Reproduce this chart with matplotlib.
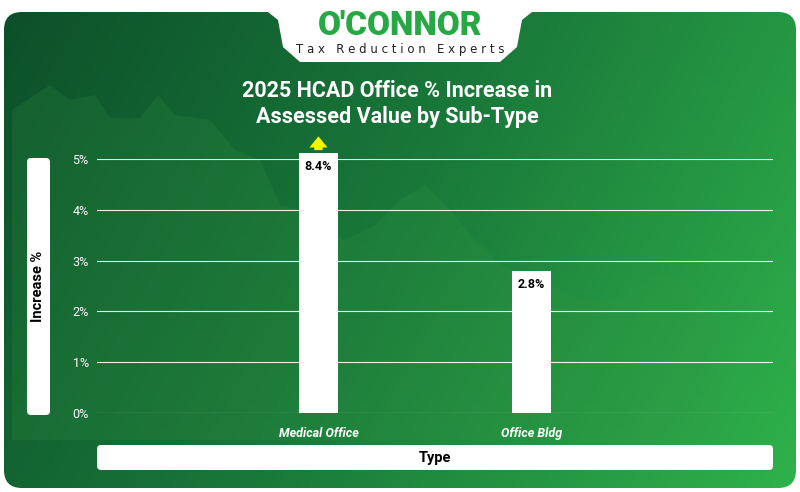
import numpy as np
import matplotlib.pyplot as plt
from matplotlib.patches import FancyBboxPatch, Polygon
from matplotlib.colors import LinearSegmentedColormap

categories = ['Medical Office', 'Office Bldg']
values = [8.4, 2.8]
yticks = [0, 1, 2, 3, 4, 5]
ymax = 5.0

W, H = 800, 492
fig = plt.figure(figsize=(8, 4.92), dpi=100)

# background gradient
bg = fig.add_axes([0, 0, 1, 1])
bg.set_xlim(0, W)
bg.set_ylim(H, 0)
bg.axis('off')
xx, yy = np.meshgrid(np.linspace(0, 1, 200), np.linspace(0, 1, 120))
grad = 0.75 * xx + 0.25 * yy
cmap = LinearSegmentedColormap.from_list('g', ['#0c4f2a', '#1a7a3a', '#2fb24b'])
im = bg.imshow(grad, extent=[0, W, H, 0], cmap=cmap, aspect='auto', zorder=0)
frame = FancyBboxPatch((4, 12), W - 8, H - 16, boxstyle='round,pad=0,rounding_size=18',
                       transform=bg.transData, facecolor='none', edgecolor='none')
bg.add_patch(frame)
im.set_clip_path(frame)

# faint skyline decoration
sky = [(12, 110), (50, 85), (70, 100), (95, 95), (110, 118), (140, 118), (158, 95), (175, 115),
       (210, 120), (235, 150), (260, 160), (280, 205), (300, 210), (320, 230), (345, 240),
       (375, 225), (400, 200), (425, 185), (450, 210), (475, 240), (500, 265), (540, 280),
       (580, 300), (620, 300), (660, 272), (690, 290), (720, 330), (720, 440), (12, 440)]
sp = Polygon(sky, closed=True, facecolor='#3a9a45', alpha=0.18, edgecolor='none', zorder=1)
bg.add_patch(sp)
sp.set_clip_path(frame)

# logo tab
tab = [(268, 12), (532, 12), (522, 20), (517, 47), (500, 62), (300, 62), (283, 47), (278, 20)]
bg.add_patch(Polygon(tab, closed=True, facecolor='white', edgecolor='none', zorder=2))
bg.text(400, 26, "O'CONNOR", color='#27a844', fontsize=24, fontweight='black',
        ha='center', va='center', family='Roboto', zorder=3)
bg.text(400, 50, 'T a x   R e d u c t i o n   E x p e r t s', color='#222222', fontsize=8.5,
        ha='center', va='center', family='DejaVu Sans', zorder=3)

# title
bg.text(397, 104, '2025 HCAD Office % Increase in\nAssessed Value by Sub-Type', color='white',
        fontsize=15.5, fontweight='bold', ha='center', va='center', family='Roboto',
        linespacing=1.2, zorder=3)

# axis label boxes
bg.add_patch(FancyBboxPatch((27, 158), 23, 257, boxstyle='round,pad=0,rounding_size=4',
                            facecolor='white', edgecolor='none', zorder=2))
bg.text(38.5, 286, 'Increase %', rotation=90, fontsize=10.5, fontweight='bold',
        ha='center', va='center', family='Roboto', zorder=3)
bg.add_patch(FancyBboxPatch((97, 445), 676, 25, boxstyle='round,pad=0,rounding_size=4',
                            facecolor='white', edgecolor='none', zorder=2))
bg.text(435, 458, 'Type', fontsize=10.5, fontweight='bold', ha='center', va='center',
        family='Roboto', zorder=3)

# chart axes
ax = fig.add_axes([97 / W, 1 - 413 / H, 676 / W, (413 - 159) / H])
ax.patch.set_alpha(0)
x = np.arange(len(categories))
ax.set_xlim(-1.04, 2.135)
ax.set_ylim(0, ymax)
for t in yticks:
    ax.axhline(t, color='white', lw=0.8, alpha=0.9, zorder=1)
shown = [min(v, ymax + 0.12) for v in values]
bars = ax.bar(x, shown, width=0.18, color='white', zorder=3, clip_on=False)
for xi, v, s in zip(x, values, shown):
    ax.text(xi, s - 0.14, f'{v:.1f}%', ha='center', va='top', fontsize=9,
            fontweight='bold', family='Roboto', zorder=4)
    if v > ymax:
        ax.annotate('', xy=(xi, ymax + 0.5), xytext=(xi, ymax + 0.12), annotation_clip=False,
                    arrowprops=dict(arrowstyle='simple,head_width=1.3,head_length=0.8,tail_width=0.6',
                                    color='#f5f500', lw=0))
ax.set_xticks(x)
ax.set_xticklabels(categories, color='white', fontsize=9, fontstyle='italic',
                   fontweight='bold', family='Roboto')
ax.set_yticks(yticks)
ax.set_yticklabels([f'{t}%' for t in yticks], color='white', fontsize=9, family='Roboto')
ax.tick_params(length=0, pad=6)
ax.tick_params(axis='x', pad=10)
for s in ax.spines.values():
    s.set_visible(False)

fig.savefig('out.png', dpi=100, facecolor='white')
